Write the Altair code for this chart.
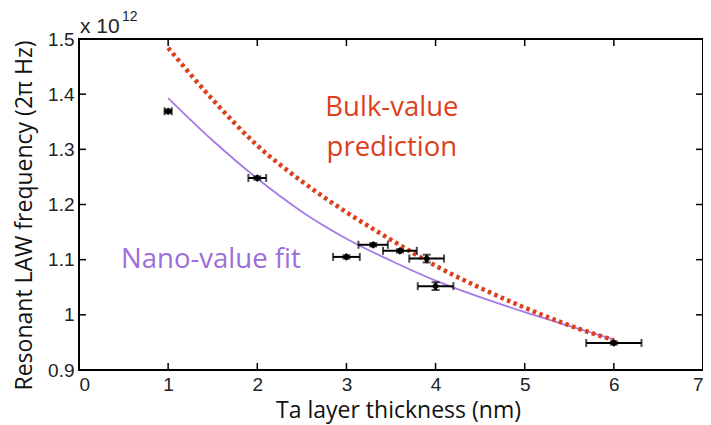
import altair as alt
import pandas as pd

# ---- data ----
x_pts = [1.0, 2.0, 3.0, 3.3, 3.6, 3.9, 4.0, 6.0]
y_pts = [1.369, 1.248, 1.105, 1.127, 1.116, 1.102, 1.052, 0.949]
x_err = [0.04, 0.10, 0.15, 0.165, 0.19, 0.195, 0.20, 0.31]
y_err = [0.003, 0.003, 0.003, 0.003, 0.003, 0.007, 0.007, 0.003]

fit_x = [1.0, 1.5, 2.0, 2.5, 3.0, 3.5, 4.0, 4.5, 5.0, 5.5, 6.0]
fit_y = [1.393, 1.316, 1.247, 1.187, 1.138, 1.098, 1.062, 1.032, 1.005, 0.980, 0.955]

bulk_x = [1.0, 1.5, 2.0, 2.5, 3.0, 3.5, 4.0, 4.5, 5.0, 5.5, 6.0]
bulk_y = [1.484, 1.390, 1.307, 1.242, 1.186, 1.136, 1.089, 1.049, 1.013, 0.981, 0.954]

x_ticks = [0, 1, 2, 3, 4, 5, 6, 7]
y_ticks = [0.9, 1.0, 1.1, 1.2, 1.3, 1.4, 1.5]

bulk_label = ["Bulk-value", "prediction"]
bulk_label_x = [3.51, 3.51]
bulk_label_y = [1.375, 1.302]
fit_label = ["Nano-value fit"]
fit_label_x = [1.48]
fit_label_y = [1.099]

W, H = 624, 331
RED = "#DC3F1C"
PURPLE = "#A57AE6"
FONT = "Open Sans"

pts = pd.DataFrame({
    "x": x_pts, "y": y_pts,
    "xlo": [a - b for a, b in zip(x_pts, x_err)],
    "xhi": [a + b for a, b in zip(x_pts, x_err)],
    "ylo": [a - b for a, b in zip(y_pts, y_err)],
    "yhi": [a + b for a, b in zip(y_pts, y_err)],
})
fit = pd.DataFrame({"x": fit_x, "y": fit_y})
bulk = pd.DataFrame({"x": bulk_x, "y": bulk_y})

xs = alt.Scale(domain=[0, 7], nice=False, zero=False)
ys = alt.Scale(domain=[0.9, 1.5], nice=False, zero=False)

xaxis = alt.Axis(values=x_ticks, format="~g", ticks=False, domain=False, grid=False,
                 labelFont="Liberation Sans", labelFontSize=19, labelColor="#222",
                 labelPadding=5, title="Ta layer thickness (nm)",
                 titleFont=FONT, titleFontSize=23, titleFontWeight="normal",
                 titleColor="#111", titleX=319, titleY=47,
                 titleBaseline="alphabetic", titleAlign="center")
yaxis = alt.Axis(values=y_ticks, format="~g", ticks=False, domain=False, grid=False,
                 labelFont="Liberation Sans", labelFontSize=19, labelColor="#222",
                 labelPadding=5, title="Resonant LAW frequency (2π Hz)",
                 titleFont=FONT, titleFontSize=23, titleFontWeight="normal",
                 titleColor="#111", titleX=-48, titleY=176, titleAngle=270,
                 titleBaseline="alphabetic", titleAlign="center")

fit_line = alt.Chart(fit).mark_line(color=PURPLE, strokeWidth=1.8, interpolate="monotone").encode(
    x=alt.X("x:Q", scale=xs, axis=xaxis),
    y=alt.Y("y:Q", scale=ys, axis=yaxis),
)
bulk_line = alt.Chart(bulk).mark_line(color=RED, strokeWidth=4.5, strokeDash=[3.5, 3.5],
                                      strokeCap="butt", interpolate="monotone").encode(
    x=alt.X("x:Q", scale=xs), y=alt.Y("y:Q", scale=ys))

base = alt.Chart(pts)
hbar = base.mark_rule(color="black", strokeWidth=2).encode(
    x=alt.X("xlo:Q", scale=xs), x2="xhi:Q", y=alt.Y("y:Q", scale=ys))
vbar = base.mark_rule(color="black", strokeWidth=2).encode(
    x=alt.X("x:Q", scale=xs), y=alt.Y("ylo:Q", scale=ys), y2="yhi:Q")
capl = base.mark_tick(color="black", orient="vertical", size=8, thickness=2).encode(
    x=alt.X("xlo:Q", scale=xs), y=alt.Y("y:Q", scale=ys))
capr = base.mark_tick(color="black", orient="vertical", size=8, thickness=2).encode(
    x=alt.X("xhi:Q", scale=xs), y=alt.Y("y:Q", scale=ys))
capt = base.mark_tick(color="black", orient="horizontal", size=8, thickness=2).encode(
    x=alt.X("x:Q", scale=xs), y=alt.Y("yhi:Q", scale=ys))
capb = base.mark_tick(color="black", orient="horizontal", size=8, thickness=2).encode(
    x=alt.X("x:Q", scale=xs), y=alt.Y("ylo:Q", scale=ys))
marker = base.mark_point(shape="diamond", filled=True, color="black", size=60, opacity=1).encode(
    x=alt.X("x:Q", scale=xs), y=alt.Y("y:Q", scale=ys))

# inward ticks (MATLAB-style box)
xt = pd.DataFrame({"v": x_ticks})
yt = pd.DataFrame({"v": y_ticks})
tb = alt.Chart(xt).mark_rule(color="black", strokeWidth=1.5).encode(
    x=alt.X("v:Q", scale=xs), y=alt.value(H), y2=alt.value(H - 7))
tt = alt.Chart(xt).mark_rule(color="black", strokeWidth=1.5).encode(
    x=alt.X("v:Q", scale=xs), y=alt.value(0), y2=alt.value(7))
tl = alt.Chart(yt).mark_rule(color="black", strokeWidth=1.5).encode(
    y=alt.Y("v:Q", scale=ys), x=alt.value(0), x2=alt.value(7))
tr = alt.Chart(yt).mark_rule(color="black", strokeWidth=1.5).encode(
    y=alt.Y("v:Q", scale=ys), x=alt.value(W), x2=alt.value(W - 7))

bulk_txt = alt.Chart(pd.DataFrame({"t": bulk_label, "x": bulk_label_x, "y": bulk_label_y})).mark_text(
    font=FONT, fontSize=27.5, color=RED, align="center", baseline="middle").encode(
    x=alt.X("x:Q", scale=xs), y=alt.Y("y:Q", scale=ys), text="t:N")
fit_txt = alt.Chart(pd.DataFrame({"t": fit_label, "x": fit_label_x, "y": fit_label_y})).mark_text(
    font=FONT, fontSize=27.5, color="#9D6DDB", align="center", baseline="middle").encode(
    x=alt.X("x:Q", scale=xs), y=alt.Y("y:Q", scale=ys), text="t:N")

exp_base = alt.Chart(pd.DataFrame({"t": ["x 10"]})).mark_text(
    font="Liberation Sans", fontSize=21, color="#222", align="left", baseline="alphabetic").encode(
    x=alt.value(1), y=alt.value(-6), text="t:N")
exp_sup = alt.Chart(pd.DataFrame({"t": ["12"]})).mark_text(
    font="Liberation Sans", fontSize=14, color="#222", align="left", baseline="alphabetic").encode(
    x=alt.value(43), y=alt.value(-18), text="t:N")

chart = alt.layer(
    fit_line, bulk_line, hbar, vbar, capl, capr, capt, capb, marker,
    tb, tt, tl, tr, bulk_txt, fit_txt, exp_base, exp_sup,
).properties(
    width=W, height=H,
    autosize=alt.AutoSizeParams(type="none"),
    padding={"left": 71, "top": 31, "right": 0, "bottom": 54},
    background="white",
).configure_view(stroke="black", strokeWidth=2)

chart.save("out.html", embed_options={"renderer": "svg", "actions": False})
